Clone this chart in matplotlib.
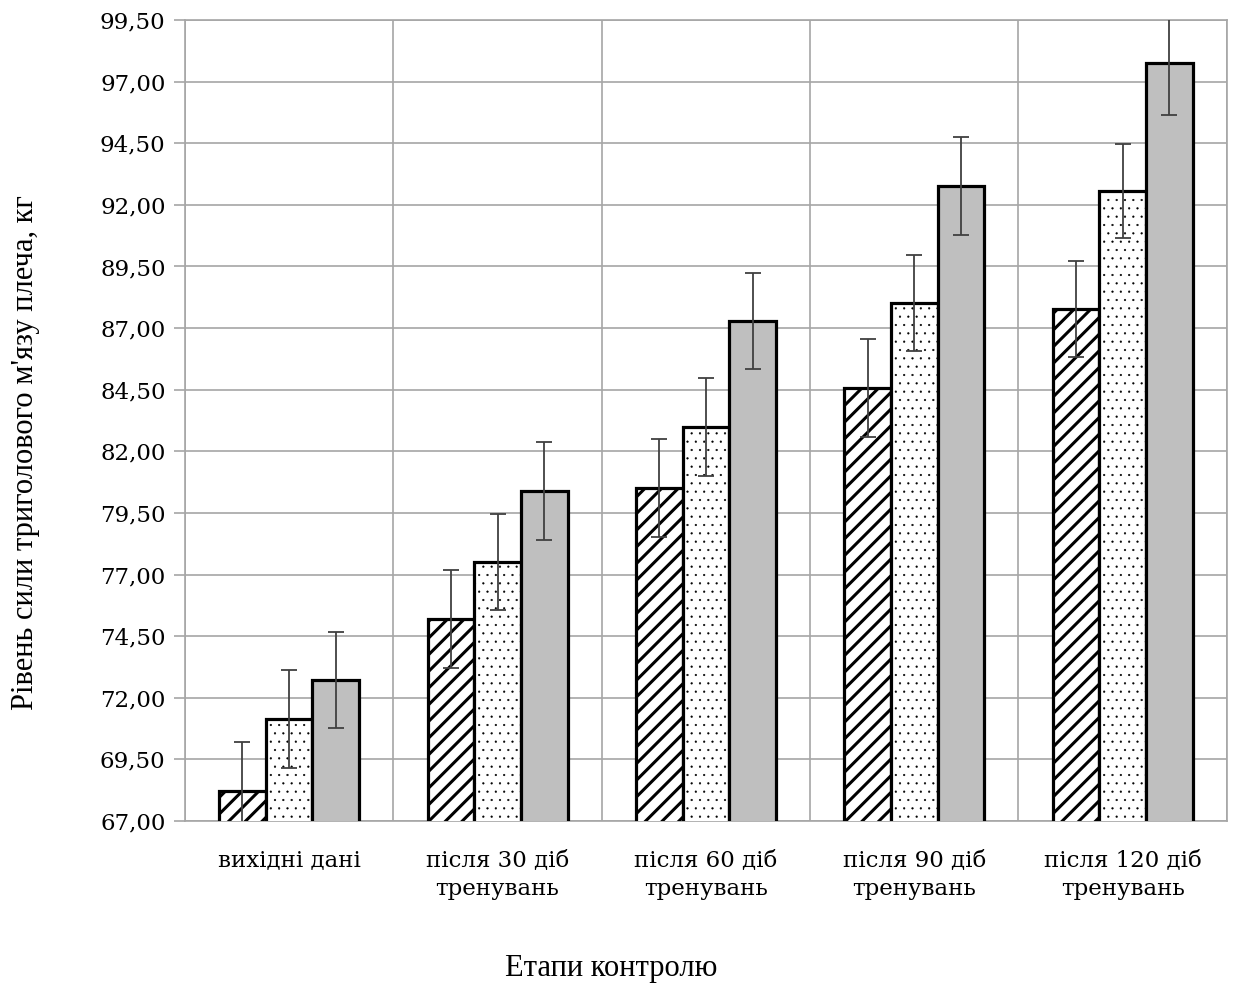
import numpy as np
import matplotlib
matplotlib.use("Agg")
import matplotlib.pyplot as plt
from matplotlib.ticker import FuncFormatter

categories = ["вихідні дані", "після 30 діб\nтренувань", "після 60 діб\nтренувань",
              "після 90 діб\nтренувань", "після 120 діб\nтренувань"]
group_a = [68.22, 75.19, 80.51, 84.57, 87.77]
group_b = [71.14, 77.51, 82.98, 88.01, 92.56]
group_c = [72.72, 80.39, 87.28, 92.76, 97.75]
err_a = [2.0, 2.0, 2.0, 2.0, 1.95]
err_b = [2.0, 1.95, 2.0, 1.95, 1.9]
err_c = [1.95, 2.0, 1.95, 2.0, 2.1]
y_ticks = [67.0, 69.5, 72.0, 74.5, 77.0, 79.5, 82.0, 84.5, 87.0, 89.5, 92.0, 94.5, 97.0, 99.5]

fig = plt.figure(figsize=(12.33, 9.85), dpi=100)
ax = fig.add_axes([0.150, 0.1665, 0.845, 0.8132])

x = np.arange(len(categories))
w = 0.224
grid_col = "#a6a6a6"
err_kw = dict(ecolor="#404040", elinewidth=1.3, capsize=6, capthick=1.3)

with plt.rc_context({"hatch.linewidth": 2.2}):
    ax.bar(x - w, group_a, w, yerr=err_a, facecolor="white", edgecolor="black",
           linewidth=2.3, hatch="//", error_kw=err_kw, zorder=3)
with plt.rc_context({"hatch.linewidth": 0.35}):
    ax.bar(x, group_b, w, yerr=err_b, facecolor="white", edgecolor="black",
           linewidth=2.3, hatch="..", error_kw=err_kw, zorder=3)
ax.bar(x + w, group_c, w, yerr=err_c, facecolor="#bfbfbf", edgecolor="black",
       linewidth=2.3, error_kw=err_kw, zorder=3)

ax.set_xlim(-0.5, len(categories) - 0.5)
ax.set_ylim(y_ticks[0], y_ticks[-1])
ax.set_yticks(y_ticks)
ax.yaxis.set_major_formatter(FuncFormatter(lambda v, p: f"{v:.2f}".replace(".", ",")))
ax.set_xticks(x)
ax.set_xticklabels(categories, fontsize=16.5, family="DejaVu Serif", linespacing=1.45)
ax.set_xticks(np.arange(-0.5, len(categories)), minor=True)
ax.tick_params(axis="x", which="major", length=0, pad=20)
ax.tick_params(axis="x", which="minor", length=0)
ax.tick_params(axis="y", length=8, color=grid_col, width=1.2, pad=6)
for lbl in ax.get_yticklabels():
    lbl.set_fontsize(16.5)
    lbl.set_family("DejaVu Serif")

ax.grid(axis="y", which="major", color=grid_col, linewidth=1.2, zorder=0)
ax.grid(axis="x", which="minor", color=grid_col, linewidth=1.2, zorder=0)
for s in ax.spines.values():
    s.set_color(grid_col)
    s.set_linewidth(1.2)

fig.text(0.021, 0.541, "Рівень сили триголового м'язу плеча, кг", rotation=90,
         ha="center", va="center", fontsize=22, family="Liberation Serif")
fig.text(0.496, 0.017, "Етапи контролю", ha="center", va="center",
         fontsize=22, family="Liberation Serif")

fig.savefig("out.png", dpi=100)
